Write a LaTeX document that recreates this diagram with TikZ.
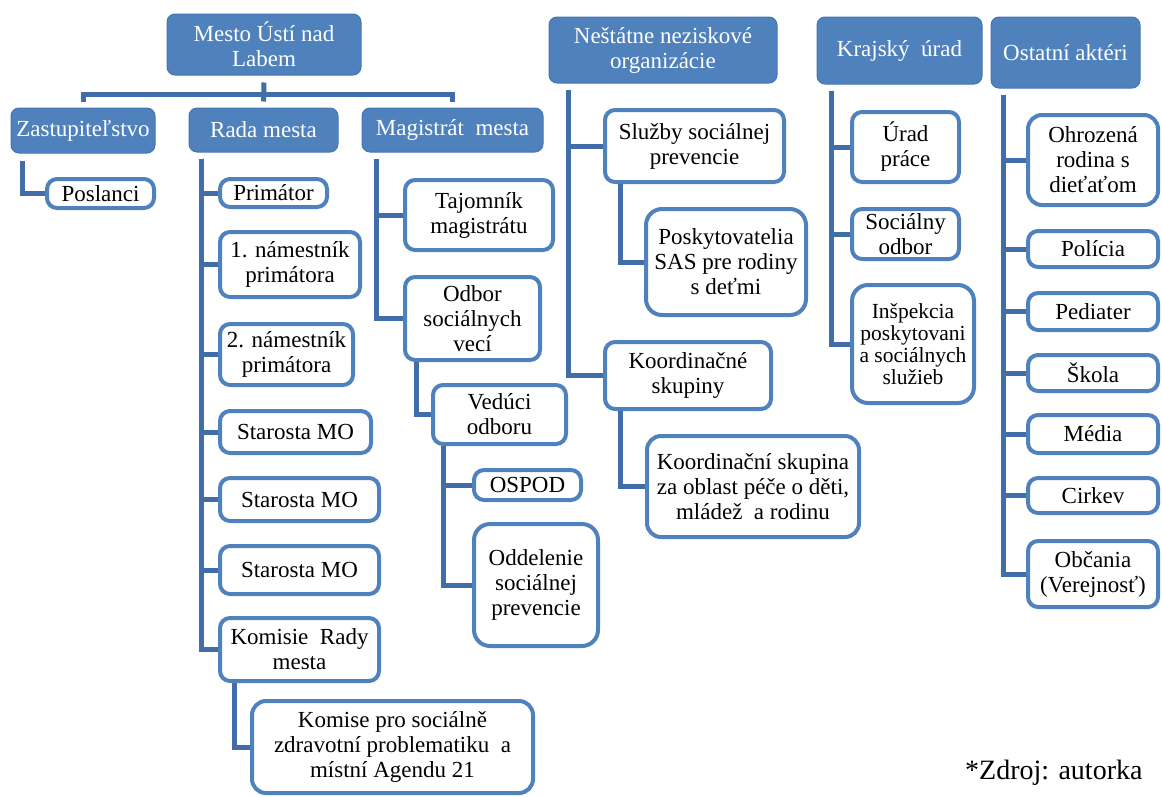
\documentclass[tikz,border=0pt]{standalone}
\usepackage{fontspec}
\setmainfont{Liberation Serif}
\definecolor{orgblue}{RGB}{79,129,189}
\definecolor{headedge}{RGB}{70,118,178}
\definecolor{linkblue}{RGB}{65,110,168}

\begin{document}
\begin{tikzpicture}[
    x=1pt, y=-1pt,
    head/.style={rectangle, draw=headedge, line width=1pt, fill=orgblue, text=white, rounded corners=8pt, align=center, inner sep=1pt, font=\fontsize{23}{25}\selectfont},
    item/.style={rectangle, draw=orgblue, line width=4pt, fill=white, rounded corners=10pt, align=center, inner sep=1pt, font=\fontsize{23}{25}\selectfont},
    link/.style={draw=linkblue, line width=5pt}
]
\useasboundingbox (0,0) rectangle (1162,796);

% top level
\node[head, minimum width=194pt, minimum height=61pt] (mesto) at (264,44.5) {Mesto Ústí nad\\Labem};
\node[head, minimum width=144pt, minimum height=45pt] (zast) at (83,130.5) {Zastupiteľstvo};
\node[head, minimum width=149pt, minimum height=44pt] (rada) at (263.5,130) {Rada mesta};
\node[head, minimum width=181pt, minimum height=44pt] (mag) at (452.5,130) {Magistrát\ \ mesta};
\node[head, minimum width=228pt, minimum height=66pt] (nno) at (663,50) {Neštátne neziskové\\organizácie};
\node[head, minimum width=165pt, minimum height=67pt] (kraj) at (899.5,50.5) {Krajský\ \ úrad};
\node[head, minimum width=149pt, minimum height=71pt] (ost) at (1065.5,52.5) {Ostatní aktéri};

% Zastupitelstvo and Rada mesta
\node[item, minimum width=107pt, minimum height=29pt] (poslanci) at (100.5,193.5) {Poslanci};
\node[item, minimum width=107pt, minimum height=28pt] (primator) at (273.5,193) {Primátor};
\node[item, minimum width=140pt, minimum height=65pt] (nam1) at (290,264.5) {1. námestník\\primátora};
\node[item, minimum width=133pt, minimum height=61pt] (nam2) at (286.5,354.5) {2. námestník\\primátora};
\node[item, minimum width=151pt, minimum height=42pt] (star1) at (295.5,432) {Starosta MO};
\node[item, minimum width=159pt, minimum height=43pt] (star2) at (299.5,499.5) {Starosta MO};
\node[item, minimum width=159pt, minimum height=48pt] (star3) at (299.5,570) {Starosta MO};
\node[item, minimum width=159pt, minimum height=63pt] (komisie) at (299.5,649.5) {Komisie\ \ Rady\\mesta};
\node[item, minimum width=281pt, minimum height=92pt, rounded corners=14pt] (komise) at (392.5,747) {Komise pro sociálně\\zdravotní problematiku\ \ a\\místní Agendu 21};

% Magistrat mesta
\node[item, minimum width=148pt, minimum height=70pt] (tajomnik) at (479,215) {Tajomník\\magistrátu};
\node[item, minimum width=135pt, minimum height=83pt] (odbor) at (472.5,318.5) {Odbor\\sociálnych\\vecí};
\node[item, minimum width=133pt, minimum height=59pt] (veduci) at (499.5,414.5) {Vedúci\\odboru};
\node[item, minimum width=107pt, minimum height=30pt] (ospod) at (527.5,485) {OSPOD};
\node[item, minimum width=124pt, minimum height=122pt, rounded corners=16pt] (oddel) at (536,585) {Oddelenie\\sociálnej\\prevencie};

% Nestatne neziskove organizacie
\node[item, minimum width=179pt, minimum height=72pt] (sluzby) at (694.5,146) {Služby sociálnej\\prevencie};
\node[item, minimum width=160pt, minimum height=106pt, rounded corners=16pt] (poskyt) at (726,262) {Poskytovatelia\\SAS pre rodiny\\s deťmi};
\node[item, minimum width=166pt, minimum height=67pt] (koord) at (688,375.5) {Koordinačné\\skupiny};
\node[item, minimum width=212pt, minimum height=101pt, rounded corners=14pt] (koordsk) at (753,486.5) {Koordinační skupina\\za oblast péče o děti,\\mládež\ \ a rodinu};

% Krajsky urad
\node[item, minimum width=107pt, minimum height=70pt] (urad) at (905.5,147) {Úrad\\práce};
\node[item, minimum width=107pt, minimum height=50pt] (socodb) at (905.5,234) {Sociálny\\odbor};
\node[item, minimum width=122pt, minimum height=118pt, rounded corners=16pt, font=\fontsize{21.5}{22}\selectfont] (insp) at (913,344) {Inšpekcia\\poskytovani\\a sociálnych\\služieb};

% Ostatni akteri
\node[item, minimum width=130pt, minimum height=90pt, rounded corners=14pt] (ohroz) at (1093,160) {Ohrozená\\rodina s\\dieťaťom};
\node[item, minimum width=130pt, minimum height=36pt] (policia) at (1093,249) {Polícia};
\node[item, minimum width=130pt, minimum height=37pt] (pediater) at (1093,311.5) {Pediater};
\node[item, minimum width=130pt, minimum height=36pt] (skola) at (1093,373) {Škola};
\node[item, minimum width=130pt, minimum height=38pt] (media) at (1093,434) {Média};
\node[item, minimum width=130pt, minimum height=35pt] (cirkev) at (1093,495.5) {Cirkev};
\node[item, minimum width=130pt, minimum height=66pt] (obcania) at (1093,574) {Občania\\(Verejnosť)};

\node[anchor=base west, inner sep=0pt, font=\fontsize{28}{30}\selectfont] (zdroj) at (965,779) {*Zdroj: autorka};

% connectors
\draw[link] ([yshift=-7pt]mesto.south) -- ([yshift=6pt]rada.north);
\draw[link] ([yshift=6pt]zast.north) |- ([yshift=13pt]rada.north) -| ([yshift=6pt]mag.north);

\draw[link] ([xshift=12pt, yshift=-7pt]zast.south west) |- (poslanci);

\draw[link] ([xshift=13pt, yshift=-6pt]rada.south west) |- (primator);
\draw[link] ([xshift=13pt, yshift=-6pt]rada.south west) |- (nam1);
\draw[link] ([xshift=13pt, yshift=-6pt]rada.south west) |- (nam2);
\draw[link] ([xshift=13pt, yshift=-6pt]rada.south west) |- (star1);
\draw[link] ([xshift=13pt, yshift=-6pt]rada.south west) |- (star2);
\draw[link] ([xshift=13pt, yshift=-6pt]rada.south west) |- (star3);
\draw[link] ([xshift=13pt, yshift=-6pt]rada.south west) |- (komisie);
\draw[link] ([xshift=16pt]komisie.south west) |- (komise);

\draw[link] ([xshift=15pt, yshift=-6pt]mag.south west) |- (tajomnik);
\draw[link] ([xshift=15pt, yshift=-6pt]mag.south west) |- (odbor);
\draw[link] ([xshift=13pt]odbor.south west) |- (veduci);
\draw[link] ([xshift=12pt]veduci.south west) |- (ospod);
\draw[link] ([xshift=12pt]veduci.south west) |- (oddel);

\draw[link] ([xshift=20pt, yshift=-6pt]nno.south west) |- (sluzby);
\draw[link] ([xshift=20pt, yshift=-6pt]nno.south west) |- (koord);
\draw[link] ([xshift=17pt]sluzby.south west) |- (poskyt);
\draw[link] ([xshift=17pt]koord.south west) |- (koordsk);

\draw[link] ([xshift=15pt, yshift=-6pt]kraj.south west) |- (urad);
\draw[link] ([xshift=15pt, yshift=-6pt]kraj.south west) |- (socodb);
\draw[link] ([xshift=15pt, yshift=-6pt]kraj.south west) |- (insp);

\draw[link] ([xshift=13pt, yshift=-6pt]ost.south west) |- (ohroz);
\draw[link] ([xshift=13pt, yshift=-6pt]ost.south west) |- (policia);
\draw[link] ([xshift=13pt, yshift=-6pt]ost.south west) |- (pediater);
\draw[link] ([xshift=13pt, yshift=-6pt]ost.south west) |- (skola);
\draw[link] ([xshift=13pt, yshift=-6pt]ost.south west) |- (media);
\draw[link] ([xshift=13pt, yshift=-6pt]ost.south west) |- (cirkev);
\draw[link] ([xshift=13pt, yshift=-6pt]ost.south west) |- (obcania);

\end{tikzpicture}
\end{document}
